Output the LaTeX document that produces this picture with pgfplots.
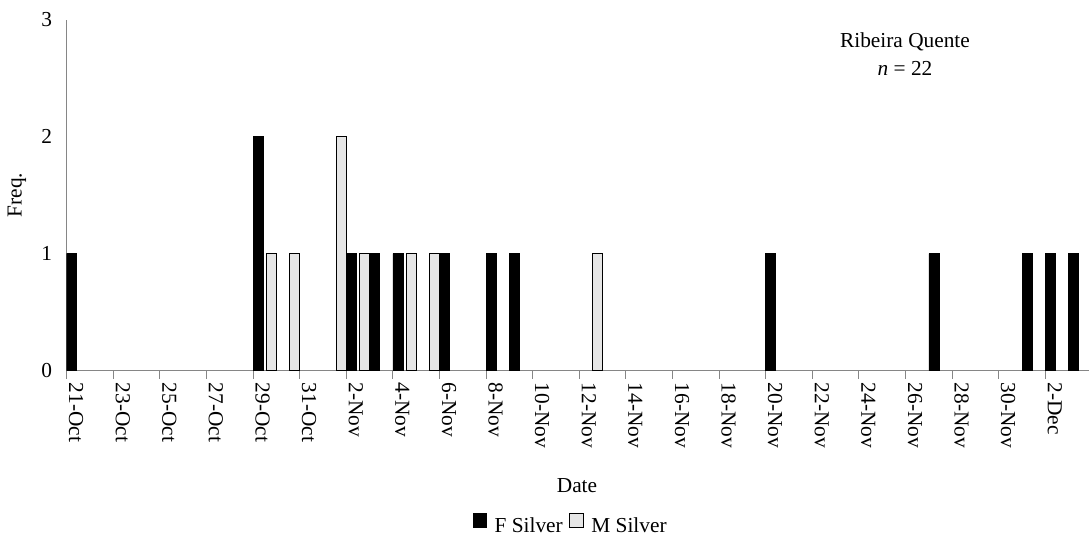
\documentclass[border=0pt]{standalone}
\usepackage{pgfplots}
\pgfplotsset{compat=1.18}
\usepackage{fontspec}
\setmainfont{Liberation Serif}
\definecolor{axgray}{RGB}{134,134,134}
\definecolor{mgray}{RGB}{230,230,230}
\begin{document}
\begin{tikzpicture}[font=\fontsize{16pt}{19pt}\selectfont]
\path[use as bounding box] (0,0) rectangle (816.75pt,403.5pt);
\begin{axis}[
  at={(50pt,125.6pt)}, anchor=south west,
  scale only axis, width=766.7pt, height=263.25pt,
  xmin=0, xmax=43.87, ymin=0, ymax=3,
  axis x line*=bottom, axis y line*=left,
  axis line style={draw=axgray, line width=0.8pt, -},
  tick align=outside,
  major tick length=6pt,
  ytick={0,1,2,3},
  ytick style={draw=none},
  yticklabel style={xshift=-1.5pt},
  /pgf/number format/assume math mode=true,
  xtick={0,2,...,42},
  xticklabels={21-Oct,23-Oct,25-Oct,27-Oct,29-Oct,31-Oct,2-Nov,4-Nov,6-Nov,8-Nov,10-Nov,12-Nov,14-Nov,16-Nov,18-Nov,20-Nov,22-Nov,24-Nov,26-Nov,28-Nov,30-Nov,2-Dec},
  xtick style={draw=axgray, line width=0.8pt},
  xticklabel style={xshift=7.1pt, rotate=-90, anchor=west, inner xsep=3pt},
  ybar, bar width=7.5pt,
  legend style={at={(0.4933,-0.440)}, anchor=center, draw=none, fill=none,
    legend columns=2,
    /tikz/every odd column/.append style={column sep=4pt},
    /tikz/every even column/.append style={column sep=3pt}},
  legend image code/.code={\draw[#1, line width=0.5pt] (0pt,-1pt) rectangle (10pt,9pt);},
]
\addplot[fill=black, draw=black, bar shift=-4.98pt] coordinates {
 (0.5,1) (8.5,2) (12.5,1) (13.5,1) (14.5,1) (16.5,1) (18.5,1) (19.5,1)
 (30.5,1) (37.5,1) (41.5,1) (42.5,1) (43.5,1)};
\addlegendentry{F Silver}
\addplot[fill=mgray, draw=black, line width=0.6pt, bar shift=4.98pt] coordinates {
 (8.5,1) (9.5,1) (11.5,2) (12.5,1) (14.5,1) (15.5,1) (22.5,1)};
\addlegendentry{M Silver}
\end{axis}
\node[anchor=base] at (678.75pt,367.5pt) {Ribeira Quente};
\node[anchor=base] at (678.75pt,346.5pt) {\textit{n} = 22};
\node[anchor=base] at (432.75pt,33.75pt) {Date};
\node[rotate=90, anchor=center] at (12.75pt,257.25pt) {Freq.};
\end{tikzpicture}
\end{document}
